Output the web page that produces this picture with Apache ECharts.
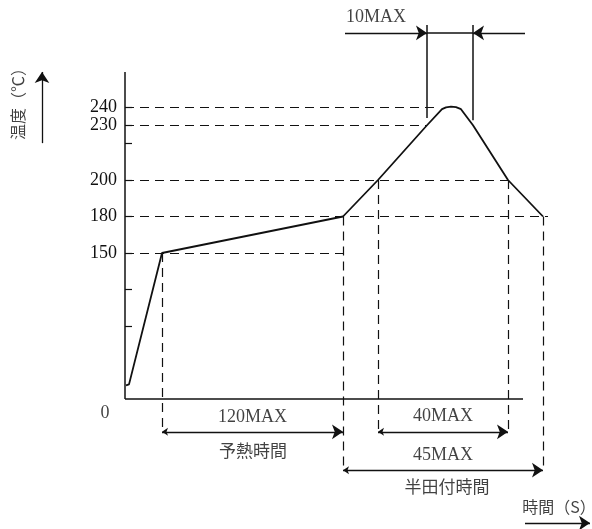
<!DOCTYPE html>
<html><head><meta charset="utf-8">
<script src="https://cdn.jsdelivr.net/npm/echarts@6/dist/echarts.min.js"></script>
<style>html,body{margin:0;padding:0;background:#fff}#c{width:592px;height:529px}</style>
</head><body><div id="c"></div>
<script>
// ---------------- data ----------------
// Reflow profile: schematic time units and temperature (°C)
const profileTime = [0.25, 1, 9.25, 54.5, 63.25, 75.5, 79.25, 80.25, 81.5, 82.75, 84, 87, 95.75, 104.5];
const profileTemp = [14, 15, 150, 180, 200, 230, 238.8, 239.8, 240.2, 239.9, 238.8, 230, 200, 180];

// y-axis tick labels (°C) and unlabelled ticks
const tempTickLabels = [150, 180, 200, 230, 240];
const tempMinorTicks = [75, 112.5, 220];

// schematic (non-linear) temperature scale of the drawing
const scaleTemp  = [0, 150, 180, 200, 240];
const scaleLevel = [0, 4, 5, 6, 8];

// horizontal dashed reference lines: temperature and end time
const refTemps = [240, 230, 200, 180, 150];
const refEnds  = [78, 75.5, 95.75, 105.75, 54.5];

// vertical dashed drop lines: time, temperature, row (0 = upper, 1 = lower)
const dropTimes = [9.25, 54.5, 63.25, 95.75, 104.5];
const dropTemps = [150, 180, 200, 200, 180];
const dropRows  = [0, 1, 0, 0, 1];

// duration annotations
const spanLabels = ['120MAX', '40MAX', '45MAX'];
const spanStart  = [9.25, 63.25, 54.5];
const spanEnd    = [54.5, 95.75, 104.5];
const spanRows   = [0, 0, 1];
const peakLabel = '10MAX';
const peakStart = 75.5, peakEnd = 87;

const yTitle = '温度（℃）';
const xTitle = '時間（S）';
const preheatName = '予熱時間';
const solderName = '半田付時間';

// ---------------- layout ----------------
const X0 = 125, PXX = 4, Y0 = 399, PXY = 36.5, W = 592, H = 529;
const xMax = (W - X0) / PXX;
const yMin = -(H - Y0) / PXY, yMax = Y0 / PXY;
const rowLevel = [-0.9, -1.95];

function L(t) {
  for (let i = 1; i < scaleTemp.length; i++) {
    if (t <= scaleTemp[i] || i === scaleTemp.length - 1) {
      const a = scaleTemp[i - 1], b = scaleTemp[i];
      return scaleLevel[i - 1] + (t - a) / (b - a) * (scaleLevel[i] - scaleLevel[i - 1]);
    }
  }
}

const serif = '"Liberation Serif","DejaVu Serif",serif';
const jp = '"Noto Sans CJK JP",sans-serif';
const ink = '#111';

const curve = profileTime.map((t, i) => [t, L(profileTemp[i])]);

const dashed = [];
refTemps.forEach((t, i) => dashed.push({coords: [[0, L(t)], [refEnds[i], L(t)]]}));
dropTimes.forEach((x, i) => dashed.push({coords: [[x, L(dropTemps[i])], [x, rowLevel[dropRows[i]]]]}));

const peakRow = 10.03;
const solid = [
  {coords: [[0, 0], [0, 8.96]]},
  {coords: [[0, 0], [99.5, 0]]},
  {coords: [[peakStart, 10.25], [peakStart, 7.7]]},
  {coords: [[peakEnd, 10.25], [peakEnd, 7.64]]},
  {coords: [[peakStart, peakRow], [peakEnd, peakRow]]}
];
const single = [
  {coords: [[55, peakRow], [peakStart, peakRow]]},
  {coords: [[100, peakRow], [peakEnd, peakRow]]},
  {coords: [[-20.75, 7.01], [-20.75, 8.96]]},
  {coords: [[100, -3.4], [116.25, -3.4]]}
];
const double = spanLabels.map((s, i) => ({coords: [[spanStart[i], rowLevel[spanRows[i]]], [spanEnd[i], rowLevel[spanRows[i]]]]}));

function txt(name, x, y, font, size, extra) {
  return Object.assign({name: name, value: [x, y],
    label: Object.assign({show: true, position: 'inside', formatter: '{b}', fontFamily: font, fontSize: size, color: ink}, extra || {})});
}
const texts = [
  txt(spanLabels[0], (spanStart[0] + spanEnd[0]) / 2, -0.49, serif, 18),
  txt(spanLabels[1], (spanStart[1] + spanEnd[1]) / 2, -0.47, serif, 18),
  txt(spanLabels[2], 79.5, -1.53, serif, 18),
  txt(peakLabel, 62.75, 10.47, serif, 18),
  txt('0', -5, -0.38, serif, 18),
  txt(preheatName, 32, -1.42, jp, 17),
  txt(solderName, 80.5, -2.41, jp, 17),
  txt(xTitle, 108.5, -2.96, jp, 16),
  txt(yTitle, -26.75, 8.19, jp, 16, {rotate: 90})
];

const lineBase = {type: 'lines', coordinateSystem: 'cartesian2d', polyline: false, silent: true, clip: false};

const chart = echarts.init(document.getElementById('c'), null, {renderer: 'canvas'});
chart.setOption({
  animation: false,
  backgroundColor: '#fff',
  grid: {left: X0, right: 0, top: 0, bottom: 0, containLabel: false, outerBoundsMode: 'none'},
  xAxis: {type: 'value', min: 0, max: xMax,
    axisLine: {show: false}, axisTick: {show: false}, axisLabel: {show: false}, splitLine: {show: false}},
  yAxis: {type: 'value', min: yMin, max: yMax,
    axisLine: {show: false, onZero: false},
    axisTick: {show: true, inside: true, length: 7, lineStyle: {color: ink, width: 1.2},
      customValues: tempTickLabels.concat(tempMinorTicks).map(L)},
    axisLabel: {show: true, margin: 8, fontFamily: serif, fontSize: 18, color: ink,
      customValues: tempTickLabels.map(L),
      formatter: v => { const i = tempTickLabels.findIndex(t => Math.abs(L(t) - v) < 1e-6); return i >= 0 ? String(tempTickLabels[i]) : ''; }},
    splitLine: {show: false}},
  series: [
    Object.assign({}, lineBase, {symbol: ['none', 'none'], lineStyle: {color: ink, width: 1.2, type: [9, 6], opacity: 1}, data: dashed}),
    Object.assign({}, lineBase, {symbol: ['none', 'none'], lineStyle: {color: ink, width: 1.5, opacity: 1}, data: solid}),
    Object.assign({}, lineBase, {symbol: ['none', 'arrow'], symbolSize: [6, 11], lineStyle: {color: ink, width: 1.3, opacity: 1}, data: single}),
    Object.assign({}, lineBase, {symbol: ['arrow', 'arrow'], symbolSize: [6, 11], lineStyle: {color: ink, width: 1.3, opacity: 1}, data: double}),
    {type: 'line', data: curve, showSymbol: false, symbol: 'none', lineStyle: {color: ink, width: 1.8}, z: 5, silent: true},
    {type: 'scatter', data: texts, symbolSize: 0, itemStyle: {color: 'transparent'}, silent: true, z: 6, clip: false}
  ]
});
</script>
</body></html>
